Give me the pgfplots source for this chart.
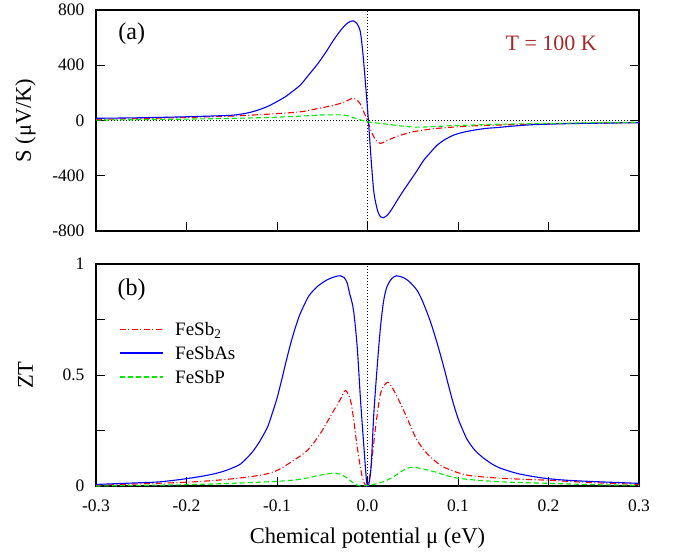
\documentclass[border=0pt]{standalone}
\usepackage{fontspec}
\setmainfont{Liberation Serif}
\usepackage{pgfplots}
\pgfplotsset{compat=1.18}
\definecolor{tcol}{RGB}{170,40,40}
\definecolor{cgreen}{RGB}{0,235,0}
\tikzset{
  rl/.style={color=red, draw=red, line width=1.1pt, dash pattern=on 6pt off 2.5pt on 1pt off 2.5pt},
  rls/.style={color=red, draw=red, line width=1.1pt, solid},
  bl/.style={color=blue, draw=blue, line width=1.1pt},
  gl/.style={color=cgreen, draw=cgreen, line width=1.1pt, dash pattern=on 5pt off 3pt},
  legtext/.style={anchor=west, inner sep=0pt, text height=13pt, text depth=0pt, font=\fontsize{19}{22}\selectfont},
}
\pgfplotsset{
  myax/.style={
    scale only axis, width=543pt,
    xmin=-0.3, xmax=0.3,
    axis line style={line width=1.5pt},
    every tick/.style={black, line width=0.9pt},
    major tick length=9pt, minor tick length=9pt,
    xtick={-0.3,-0.2,-0.1,0,0.1,0.2,0.3},
    xtick pos=left, ytick pos=both,
    tick label style={font=\fontsize{17.5}{20}\selectfont},
    yticklabel style={xshift=-8pt},
    xticklabel style={yshift=-10pt},
    every axis y label/.style={at={(axis description cs:-0.13,0.5)}, rotate=90, anchor=center, font=\fontsize{22.5}{26}\selectfont},
  },
  redp/.style={rl, smooth, tension=0.5},
  bluep/.style={bl, smooth, tension=0.5},
  greenp/.style={gl, smooth, tension=0.5},
  dotp/.style={black, line width=0.8pt, dash pattern=on 0.8pt off 2.2pt, forget plot},
}
\begin{document}
\begin{tikzpicture}
\path[use as bounding box] (0pt,0pt) rectangle (685pt,-559pt);
% ---------- (a) ----------
\begin{axis}[myax, at={(96pt,-231pt)}, anchor=south west, height=221pt,
  ymin=-800, ymax=800, ytick={-800,-400,0,400,800}, yticklabels={-800,-400,0,400,800},
  xticklabels={}, ylabel={S (μV/K)}]
\addplot[dotp] coordinates {(-0.3,0) (0.3,0)};
\addplot[dotp] coordinates {(0,-800) (0,800)};
\addplot[redp] coordinates {
(-0.3,8) (-0.25,14) (-0.2,22) (-0.15,32) (-0.12,42) (-0.1,50) (-0.074,63) (-0.056,85) (-0.037,111) (-0.025,135) (-0.017,160) (-0.012,150) (-0.008,120) (-0.004,60) (0,0) (0.004,-75) (0.009,-142) (0.0144,-166) (0.02,-150) (0.0328,-115) (0.051,-81) (0.077,-57) (0.114,-40) (0.145,-33) (0.2,-24) (0.25,-19) (0.3,-15)};
\addplot[bluep] coordinates {
(-0.30,16) (-0.25,20) (-0.20,27) (-0.17,33) (-0.148,39) (-0.129,60) (-0.111,100) (-0.0925,165) (-0.083,210) (-0.074,258) (-0.065,330) (-0.0556,405) (-0.046,495) (-0.0372,585) (-0.030,650) (-0.024,695) (-0.019,717) (-0.015,720) (-0.012,705) (-0.008,645) (-0.005,480) (-0.002,250) (0.001,0) (0.004,-280) (0.007,-517) (0.011,-650) (0.0145,-698) (0.0173,-704) (0.022,-685) (0.027,-640) (0.0328,-578) (0.04,-505) (0.0475,-433) (0.055,-360) (0.0622,-287) (0.07,-228) (0.077,-178) (0.085,-140) (0.0954,-105) (0.104,-88) (0.114,-74) (0.13,-58) (0.145,-50) (0.165,-38) (0.184,-30) (0.22,-23) (0.26,-19) (0.30,-16)};
\addplot[greenp] coordinates {
(-0.3,3) (-0.25,6) (-0.2,10) (-0.15,15) (-0.1,24) (-0.07,33) (-0.05,40) (-0.035,41) (-0.025,38) (-0.015,20) (-0.008,5) (0,-9) (0.01,-18) (0.022,-27) (0.035,-38) (0.0475,-46) (0.06,-48) (0.08,-42) (0.095,-37) (0.12,-32) (0.145,-27) (0.2,-21) (0.25,-16) (0.3,-12)};
\node[font=\fontsize{24}{28}\selectfont] at (axis cs:-0.2605,629) {(a)};
\node[font=\fontsize{22}{26}\selectfont, text=tcol] at (axis cs:0.203,556) {T = 100 K};
\end{axis}
% ---------- (b) ----------
\begin{axis}[myax, at={(96pt,-486pt)}, anchor=south west, height=222pt,
  ymin=0, ymax=1, ytick={0,0.5,1}, yticklabels={0,0.5,1}, minor ytick={0.25,0.75},
  xticklabels={-0.3,-0.2,-0.1,0.0,0.1,0.2,0.3}, ylabel={ZT},
  xlabel={Chemical potential μ (eV)}, unbounded coords=jump,
  every axis x label/.style={at={(axis description cs:0.5,-0.234)}, anchor=center, font=\fontsize{22.5}{26}\selectfont}]
\addplot[dotp] coordinates {(0,0) (0,1)};
\addplot[redp] coordinates {
(-0.3,0.003) (-0.25,0.01) (-0.2,0.017) (-0.155,0.03) (-0.118,0.049) (-0.1,0.07) (-0.081,0.117) (-0.066,0.162) (-0.052,0.237) (-0.037,0.342) (-0.03,0.39) (-0.0243,0.43) (-0.018,0.372) (-0.0114,0.177) (-0.006,0.045) (-0.001,0.0) (0.003,0.057) (0.009,0.267) (0.0144,0.417) (0.0217,0.467) (0.027,0.445) (0.033,0.40) (0.04,0.34) (0.047,0.275) (0.053,0.22) (0.059,0.18) (0.066,0.145) (0.0733,0.117) (0.082,0.09) (0.092,0.072) (0.11,0.049) (0.147,0.035) (0.2,0.026) (0.213,0.023) (0.25,0.015) (0.3,0.0075)};
\addplot[bluep] coordinates {
(-0.3,0.007) (-0.25,0.015) (-0.229,0.019) (-0.2,0.033) (-0.175,0.05) (-0.16,0.065) (-0.15,0.08) (-0.14,0.10) (-0.13,0.14) (-0.125,0.165) (-0.12,0.195) (-0.115,0.23) (-0.11,0.27) (-0.105,0.33) (-0.10,0.395) (-0.095,0.475) (-0.09,0.56) (-0.085,0.64) (-0.08,0.71) (-0.075,0.77) (-0.07,0.815) (-0.065,0.855) (-0.06,0.88) (-0.055,0.90) (-0.05,0.915) (-0.045,0.928) (-0.04,0.937) (-0.035,0.944) (-0.03,0.947) (-0.026,0.94) (-0.0225,0.915) (-0.0199,0.87) (-0.0155,0.793) (-0.0114,0.627) (-0.0077,0.387) (-0.004,0.177) (-0.001,0.02) (0.001,0.0) (0.004,0.09) (0.007,0.327) (0.0107,0.537) (0.0144,0.718) (0.018,0.838) (0.0217,0.90) (0.027,0.935) (0.032,0.947) (0.036,0.944) (0.04,0.938) (0.045,0.925) (0.05,0.905) (0.055,0.88) (0.06,0.84) (0.065,0.79) (0.07,0.735) (0.075,0.67) (0.08,0.6) (0.085,0.525) (0.09,0.445) (0.095,0.37) (0.10,0.305) (0.105,0.255) (0.11,0.21) (0.115,0.18) (0.12,0.155) (0.1285,0.125) (0.138,0.098) (0.147,0.08) (0.165,0.057) (0.184,0.042) (0.2,0.033) (0.22,0.026) (0.25,0.02) (0.3,0.012)};
\addplot[greenp] coordinates {
(-0.3,0.0) (-0.25,0.003) (-0.2,0.006) (-0.15,0.012) (-0.1,0.021) (-0.075,0.03) (-0.052,0.049) (-0.041,0.057) (-0.035,0.058) (-0.026,0.045) (-0.015,0.012) (-0.008,0.0) (0.003,0.005) (0.012,0.012) (0.022,0.027) (0.03,0.045) (0.04,0.072) (0.0475,0.084) (0.055,0.082) (0.0733,0.065) (0.1,0.035) (0.147,0.019) (0.2,0.012) (0.25,0.006) (0.3,0.003)};
% legend samples
\addplot[rls, forget plot] coordinates {(-0.2735,0.707) (-0.26687,0.707) (-0.2655,nan) (-0.26411,0.707) (-0.26300,0.707) (-0.2615,nan) (-0.26024,0.707) (-0.25361,0.707) (-0.252,nan) (-0.25085,0.707) (-0.24974,0.707) (-0.248,nan) (-0.24698,0.707) (-0.24035,0.707) (-0.239,nan) (-0.23759,0.707) (-0.23648,0.707) (-0.235,nan) (-0.23372,0.707) (-0.22709,0.707)};
\addplot[bl, forget plot] coordinates {(-0.2735,0.599) (-0.226,0.599)};
\addplot[gl, forget plot] coordinates {(-0.2735,0.491) (-0.226,0.491)};
\node[legtext] at (axis description cs:0.1455,0.707) {FeSb\textsubscript{2}};
\node[legtext] at (axis description cs:0.1455,0.599) {FeSbAs};
\node[legtext] at (axis description cs:0.1455,0.491) {FeSbP};
\node[font=\fontsize{24}{28}\selectfont] at (axis cs:-0.2606,0.883) {(b)};
\end{axis}
\end{tikzpicture}
\end{document}
